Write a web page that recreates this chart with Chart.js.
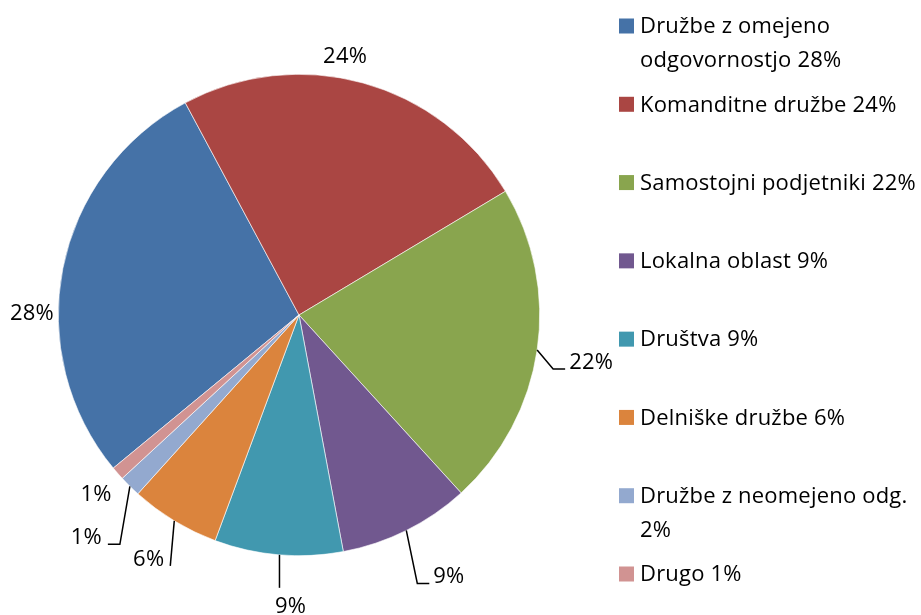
<!DOCTYPE html>
<html>
<head>
<meta charset="utf-8">
<script src="https://cdn.jsdelivr.net/npm/chart.js@4.4.1/dist/chart.umd.min.js"></script>
<style>
  html, body { margin: 0; padding: 0; background: #fff; }
</style>
</head>
<body>
<canvas id="myChart" width="921" height="615"></canvas>
<script>
// Categories (legend text, as in the source sheet)
var categories = [
  'Družbe z omejeno odgovornostjo 28%',
  'Komanditne družbe 24%',
  'Samostojni podjetniki 22%',
  'Lokalna oblast 9%',
  'Društva 9%',
  'Delniške družbe 6%',
  'Družbe z neomejeno odg. 2%',
  'Drugo 1%'
];

// Share of each category (percent)
var shares = [28.1, 24.2, 21.8, 8.8, 8.6, 6.0, 1.45, 0.9];

var colors = ['#4572A7', '#AA4643', '#89A54E', '#71588F', '#4198AF', '#DB843D', '#93A9CF', '#D19392'];

var font = '22px "Open Sans", "Noto Sans", sans-serif';

// Where each data label goes, relative to the outer edge of its slice (mid angle)
var labelPlacement = [
  { dx: -31, dy: 52, align: 'center', leader: null },
  { dx: -18, dy: -20, align: 'center', leader: null },
  { dx: 32, dy: 19, align: 'left', leader: 'elbow' },
  { dx: 27, dy: 53, align: 'left', leader: 'elbow' },
  { dx: 12, dy: 58, align: 'center', leader: 'drop' },
  { dx: -10, dy: 45, align: 'right', leader: 'slant' },
  { dx: -28, dy: 58, align: 'right', leader: 'elbow' },
  { dx: -6, dy: 28, align: 'right', leader: null }
];

function wrapText(ctx, text, maxWidth) {
  var words = text.split(' ');
  var lines = [];
  var line = '';
  words.forEach(function (w) {
    var test = line ? line + ' ' + w : w;
    if (line && ctx.measureText(test).width > maxWidth) {
      lines.push(line);
      line = w;
    } else {
      line = test;
    }
  });
  if (line) lines.push(line);
  return lines;
}

// Data labels with leader lines, plus the legend on the right
var labelsPlugin = {
  id: 'pieLabels',
  afterDraw: function (chart) {
    var ctx = chart.ctx;
    var meta = chart.getDatasetMeta(0);
    var data = chart.data.datasets[0].data;
    var total = data.reduce(function (a, b) { return a + b; }, 0);

    ctx.save();
    ctx.font = font;
    ctx.letterSpacing = '0.2px';
    ctx.fillStyle = '#000';
    ctx.strokeStyle = '#000';
    ctx.lineWidth = 1.5;
    ctx.textBaseline = 'alphabetic';

    meta.data.forEach(function (arc, i) {
      var p = labelPlacement[i];
      var mid = (arc.startAngle + arc.endAngle) / 2;
      var ex = arc.x + Math.cos(mid) * arc.outerRadius;
      var ey = arc.y + Math.sin(mid) * arc.outerRadius;
      var tx = ex + p.dx;
      var ty = ey + p.dy;
      var text = Math.round(data[i] / total * 100) + '%';

      ctx.beginPath();
      if (p.leader === 'elbow') {
        var side = p.align === 'left' ? -1 : 1;
        var gap = p.align === 'left' ? 4 : 6;
        ctx.moveTo(ex, ey);
        ctx.lineTo(tx + side * (gap + 12), ty);
        ctx.lineTo(tx + side * gap, ty);
        ctx.stroke();
      } else if (p.leader === 'slant') {
        ctx.moveTo(ex, ey);
        ctx.lineTo(tx + 6, ty);
        ctx.stroke();
      } else if (p.leader === 'drop') {
        ctx.moveTo(ex + 1, ey);
        ctx.lineTo(ex + 1, ty - 25);
        ctx.stroke();
      }

      ctx.textAlign = p.align;
      ctx.fillText(text, tx, ty);
    });

    // legend
    var boxX = 619, textX = 640, firstY = 26, lastY = 574, lineH = 34;
    var step = (lastY - firstY) / (categories.length - 1);
    ctx.textAlign = 'left';
    ctx.textBaseline = 'middle';
    chart.data.labels.forEach(function (lbl, i) {
      var cy = firstY + i * step;
      ctx.fillStyle = colors[i];
      ctx.fillRect(boxX, cy - 7.5, 15, 15);
      ctx.fillStyle = '#000';
      var lines = wrapText(ctx, lbl, chart.width - textX);
      lines.forEach(function (ln, j) {
        ctx.fillText(ln, textX, cy + 1 + j * lineH);
      });
    });
    ctx.restore();
  }
};

var ctx = document.getElementById('myChart').getContext('2d');

var myChart = new Chart(ctx, {
  type: 'pie',
  data: {
    labels: categories,
    datasets: [{
      data: shares,
      backgroundColor: colors,
      borderColor: '#ffffff',
      borderWidth: 0.6
    }]
  },
  options: {
    responsive: false,
    animation: false,
    events: [],
    rotation: 230.5,
    layout: {
      padding: { left: 58, right: 381, top: 74, bottom: 59 }
    },
    plugins: {
      legend: { display: false },
      tooltip: { enabled: false }
    }
  },
  plugins: [labelsPlugin]
});
</script>
</body>
</html>
